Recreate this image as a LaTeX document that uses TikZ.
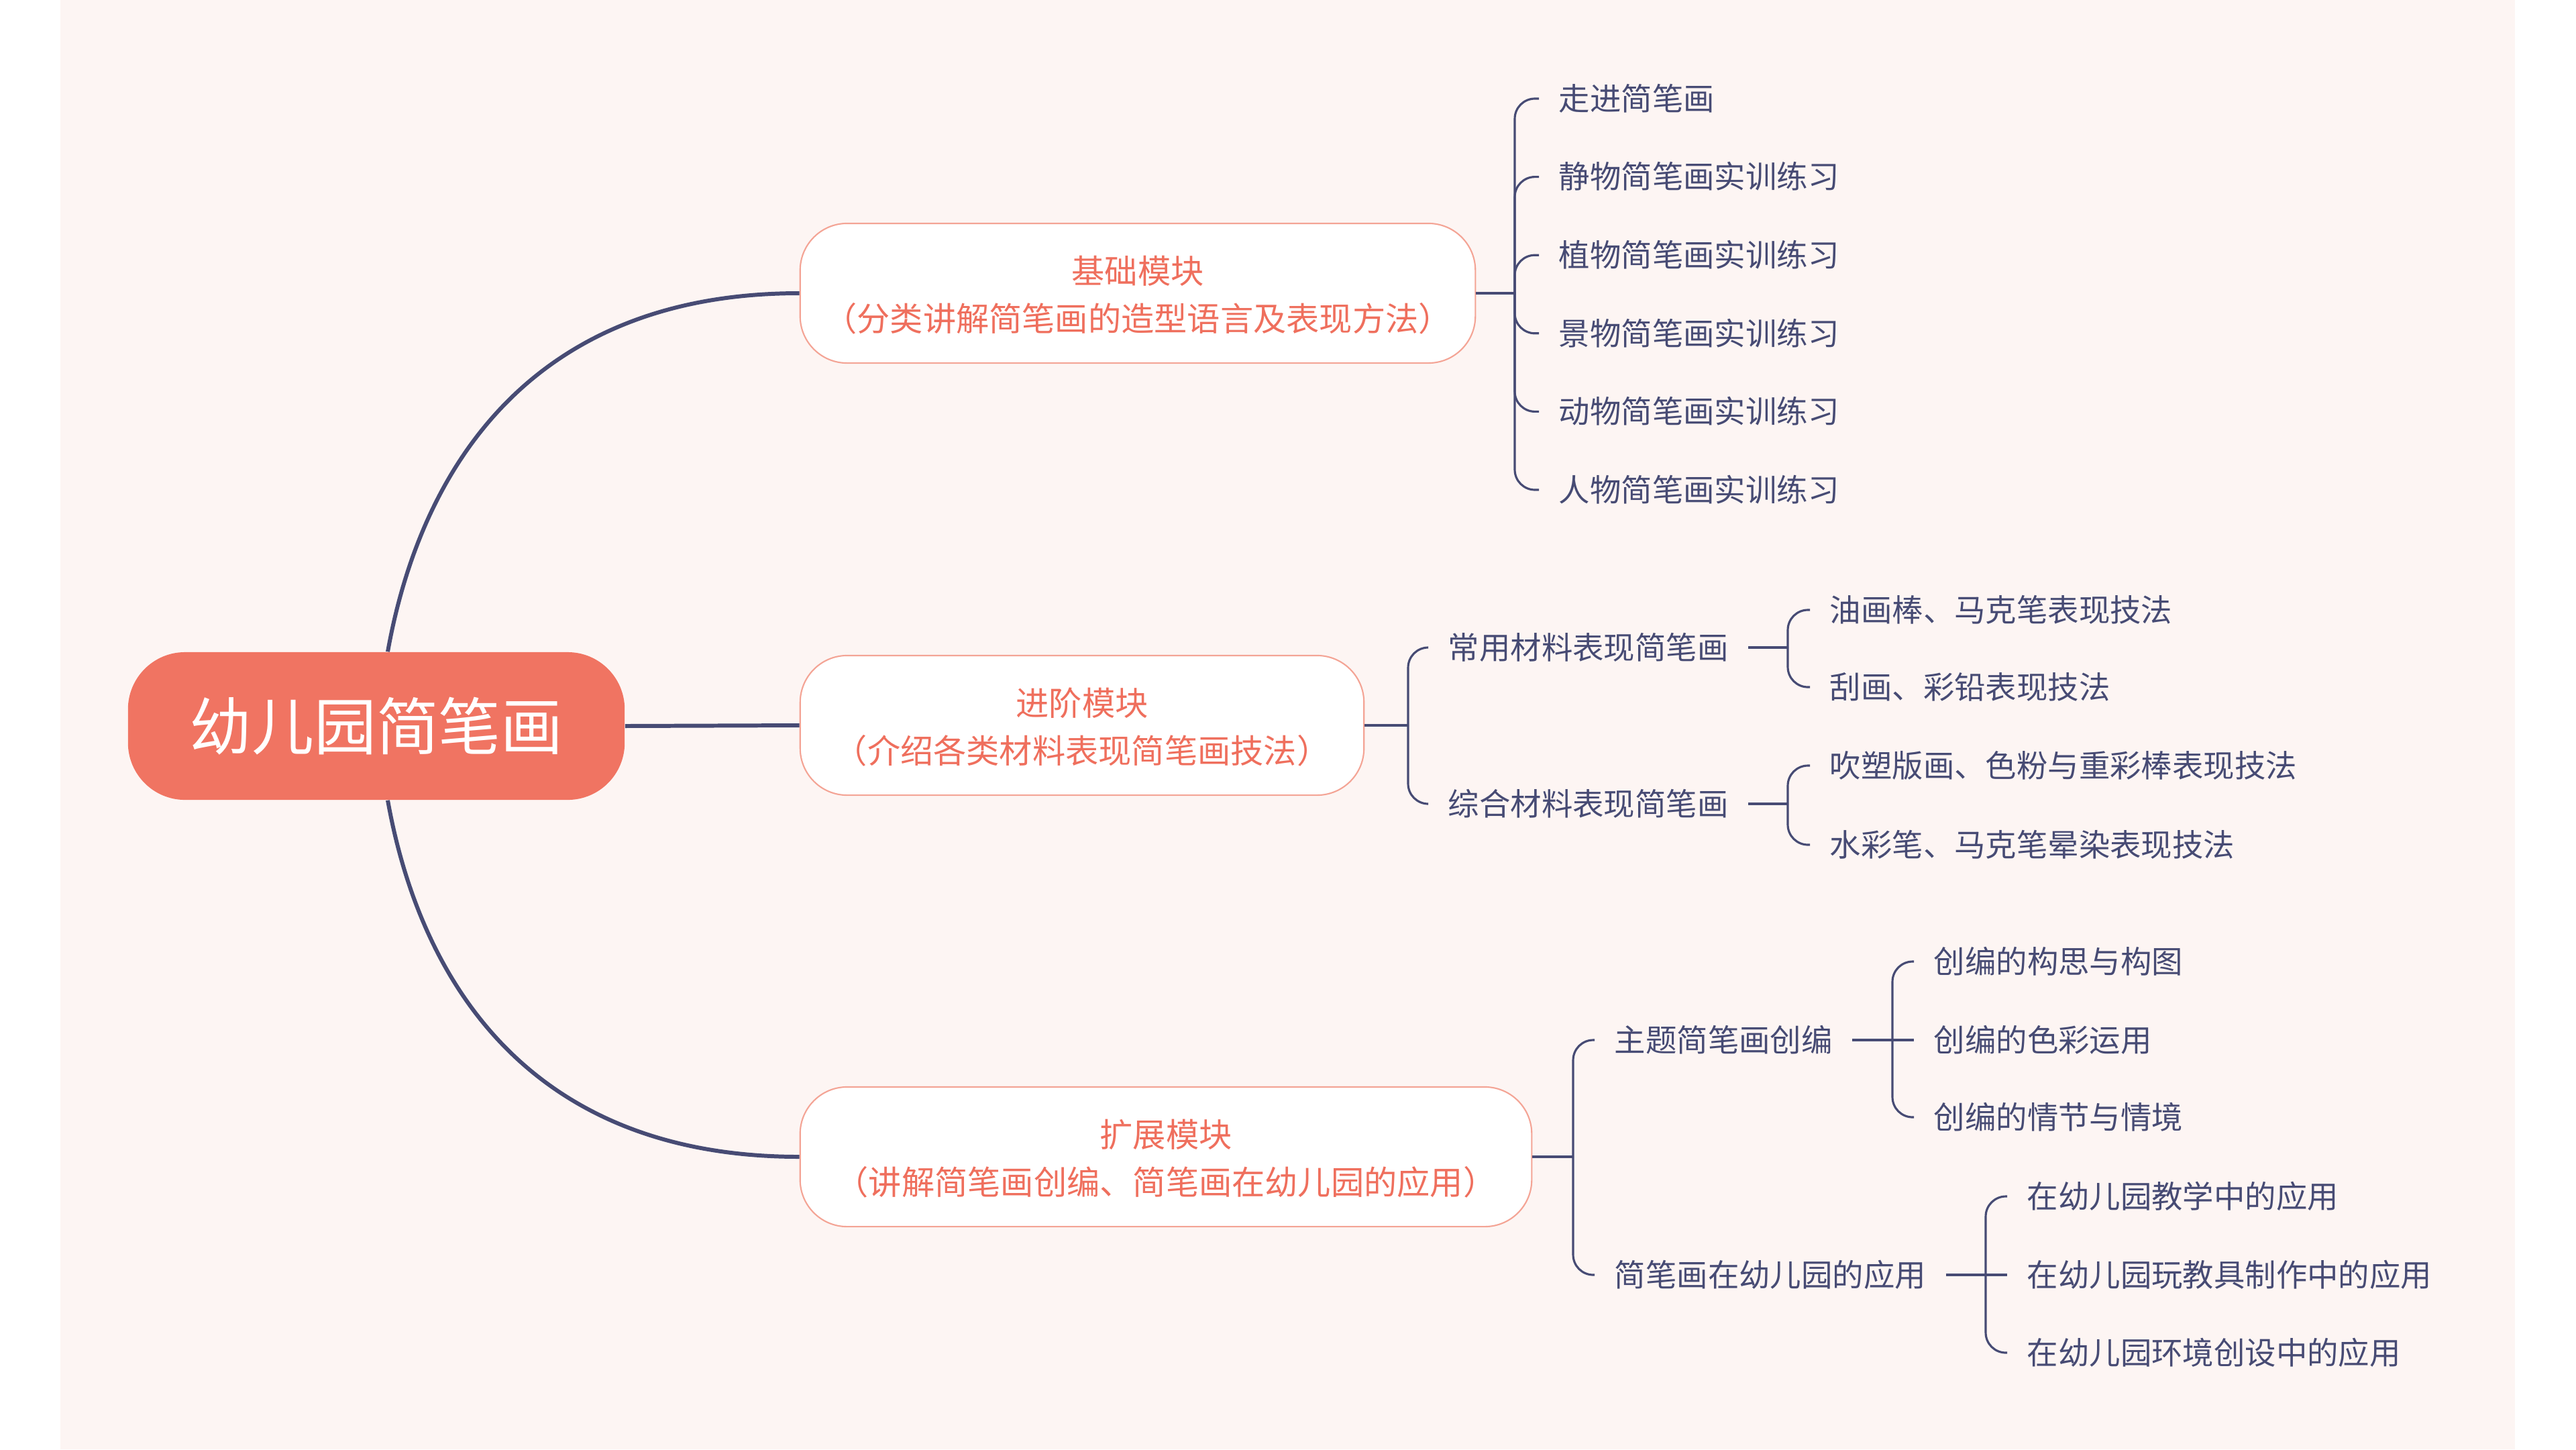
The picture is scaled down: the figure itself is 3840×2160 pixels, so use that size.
\documentclass[tikz,border=0pt]{standalone}
\usepackage{fontspec}
\newfontfamily\cjk{Noto Sans CJK SC}
\usetikzlibrary{calc}
\definecolor{bgpink}{HTML}{FDF5F3}
\definecolor{coral}{HTML}{F07462}
\definecolor{modline}{HTML}{F4A495}
\definecolor{modtext}{HTML}{EF6F5D}
\definecolor{ink}{HTML}{474B74}
\tikzset{
  topic/.style={fill=coral, text=white, rounded corners=0.85cm, minimum width=7.4cm,
    minimum height=2.2cm, font=\cjk\fontsize{26.4}{30}\selectfont},
  modbox/.style={draw=modline, line width=0.6pt, fill=white, rounded corners=0.7cm,
    minimum height=2.08cm, align=center, text=modtext, text depth=0pt,
    font=\cjk\fontsize{14}{20.2}\selectfont},
  leafnode/.style={anchor=west, inner xsep=0.29cm, inner ysep=0pt, text=ink,
    text height=1em, text depth=0.02em, font=\cjk\fontsize{13.2}{16}\selectfont},
  trunk/.style={draw=ink, line width=1.7pt},
  stemline/.style={draw=ink, line width=1.2pt},
  hookline/.style={draw=ink, line width=0.9pt, rounded corners=0.3cm},
}

\begin{document}
\begin{tikzpicture}[x=0.01cm, y=-0.01cm]
  \useasboundingbox (0,0) rectangle (3840,2160);
  \fill[bgpink] (90,0) rectangle (3749,2160);

  % centre and the three modules
  \node[topic] (root) at (561,1082) {幼儿园简笔画};
  \node[modbox, minimum width=10.06cm] (m1) at (1696,437) {基础模块\\（分类讲解简笔画的造型语言及表现方法）};
  \node[modbox, minimum width=8.4cm] (m2) at (1613,1081) {进阶模块\\（介绍各类材料表现简笔画技法）};
  \node[modbox, minimum width=10.9cm] (m3) at (1738,1724) {扩展模块\\（讲解简笔画创编、简笔画在幼儿园的应用）};

  \draw[trunk] ([xshift=0.17cm]root.north) .. controls +(47,-262) and +(-409,0) .. (m1.west);
  \draw[trunk] (root.east) -- (m2.west);
  \draw[trunk] ([xshift=0.17cm]root.south) .. controls +(47,262) and +(-409,0) .. (m3.west);

  % basic module
  \coordinate (j1) at (2258,437);
  \draw[stemline] (m1.east) -- (j1);
  \foreach \t [count=\i] in {走进简笔画, 静物简笔画实训练习, 植物简笔画实训练习,
      景物简笔画实训练习, 动物简笔画实训练习, 人物简笔画实训练习} {
    \node[leafnode] (a\i) at (2294,{147+116.6*(\i-1)}) {\t};
    \draw[hookline] (j1) |- (a\i.west);
  }

  % advanced module
  \coordinate (j2) at (2099,1081);
  \draw[stemline] (m2.east) -- (j2);
  \node[leafnode] (c1) at (2129,965) {常用材料表现简笔画};
  \node[leafnode] (c2) at (2129,1198) {综合材料表现简笔画};
  \draw[hookline] (j2) |- (c1.west);
  \draw[hookline] (j2) |- (c2.west);

  \coordinate (j21) at (2665,965);
  \draw[stemline] (c1.east) -- (j21);
  \node[leafnode] (g11) at (2698,909) {油画棒、马克笔表现技法};
  \node[leafnode] (g12) at (2698,1024) {刮画、彩铅表现技法};
  \draw[hookline] (j21) |- (g11.west);
  \draw[hookline] (j21) |- (g12.west);

  \coordinate (j22) at (2665,1198);
  \draw[stemline] (c2.east) -- (j22);
  \node[leafnode] (g21) at (2698,1141) {吹塑版画、色粉与重彩棒表现技法};
  \node[leafnode] (g22) at (2698,1259) {水彩笔、马克笔晕染表现技法};
  \draw[hookline] (j22) |- (g21.west);
  \draw[hookline] (j22) |- (g22.west);

  % extension module
  \coordinate (j3) at (2345,1724);
  \draw[stemline] (m3.east) -- (j3);
  \node[leafnode] (c3) at (2377,1550) {主题简笔画创编};
  \node[leafnode] (c4) at (2377,1900) {简笔画在幼儿园的应用};
  \draw[hookline] (j3) |- (c3.west);
  \draw[hookline] (j3) |- (c4.west);

  \coordinate (j31) at (2821,1550);
  \draw[stemline] (c3.east) -- (j31);
  \node[leafnode] (g31) at (2853,1433) {创编的构思与构图};
  \node[leafnode] (g32) at (2853,1550) {创编的色彩运用};
  \node[leafnode] (g33) at (2853,1665) {创编的情节与情境};
  \draw[hookline] (j31) |- (g31.west);
  \draw[hookline] (j31) -- (g32.west);
  \draw[hookline] (j31) |- (g33.west);

  \coordinate (j32) at (2960,1900);
  \draw[stemline] (c4.east) -- (j32);
  \node[leafnode] (g41) at (2992,1783) {在幼儿园教学中的应用};
  \node[leafnode] (g42) at (2992,1900) {在幼儿园玩教具制作中的应用};
  \node[leafnode] (g43) at (2992,2016) {在幼儿园环境创设中的应用};
  \draw[hookline] (j32) |- (g41.west);
  \draw[hookline] (j32) -- (g42.west);
  \draw[hookline] (j32) |- (g43.west);
\end{tikzpicture}
\end{document}
